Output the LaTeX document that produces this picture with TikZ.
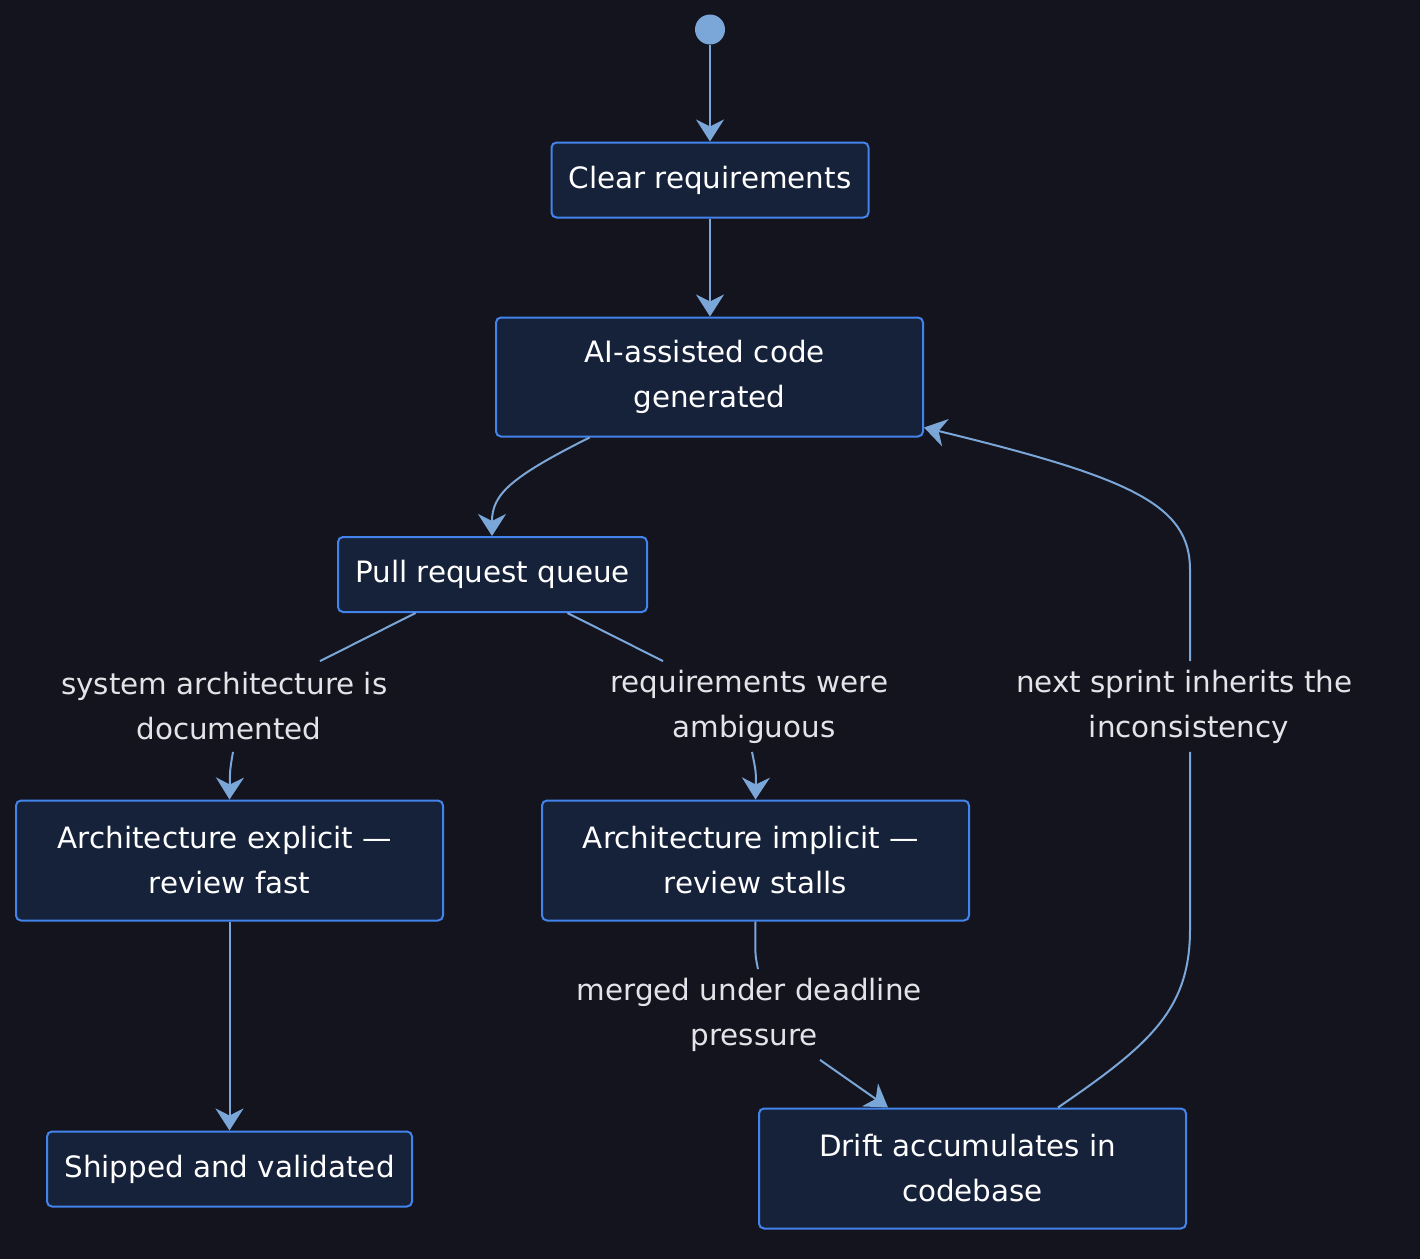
\documentclass[tikz,border=0pt]{standalone}
\usepackage{fontspec}
\setmainfont{DejaVu Sans}
\usetikzlibrary{arrows.meta,calc}
\definecolor{bgc}{HTML}{14141F}
\definecolor{boxfill}{HTML}{16213A}
\definecolor{boxline}{HTML}{4284EC}
\definecolor{edgec}{HTML}{7AA6D8}
\definecolor{lblc}{HTML}{E4E4E8}
\newcommand{\tsp}{\hspace*{4.7pt}}
\tikzset{
  statebox/.style={draw=boxline, fill=boxfill, line width=1pt, rounded corners=2.5pt,
    text=white, align=center, inner sep=0pt, font=\fontsize{14.7}{22.5}\selectfont},
  elabel/.style={text=lblc, align=center, inner sep=0pt, minimum height=45pt,
    font=\fontsize{14.7}{22.5}\selectfont},
  conn/.style={draw=edgec, line width=1pt},
  arr/.style={conn, -{Stealth[length=11pt,width=14pt,inset=3.5pt,fill=edgec]}}
}
\begin{document}
\begin{tikzpicture}[x=0.5pt,y=-0.5pt]
\useasboundingbox (0,0.5) rectangle (1420,1259.5);
\fill[bgc] (-20,-20) rectangle (1440,1280);

\node[circle, fill=edgec, minimum size=15pt, inner sep=0pt] (start) at (710,30) {};
\node[statebox, minimum width=158.5pt, minimum height=37.5pt] (clear) at (710,180.5) {Clear requirements};
\node[statebox, minimum width=213.5pt, minimum height=59.5pt] (ai) at (709.5,377.5) {AI-assisted code\tsp\\generated};
\node[statebox, minimum width=154.5pt, minimum height=37.5pt] (pr) at (492.5,575) {Pull request queue};
\node[statebox, minimum width=213.5pt, minimum height=60pt] (aexp) at (229.5,861) {Architecture explicit —\tsp\\review fast};
\node[statebox, minimum width=213.5pt, minimum height=60pt] (aimp) at (755.5,861) {Architecture implicit —\tsp\\review stalls};
\node[statebox, minimum width=182.5pt, minimum height=37.5pt] (ship) at (229.5,1169.5) {Shipped and validated};
\node[statebox, minimum width=213.5pt, minimum height=60pt] (drift) at (972.5,1169) {Drift accumulates in\tsp\\codebase};

\node[elabel] (l1) at (229,707) {system architecture is\tsp\\documented};
\node[elabel] (l2) at (754,707) {requirements were\tsp\\ambiguous};
\node[elabel] (l3) at (1189,707) {next sprint inherits the\tsp\\inconsistency};
\node[elabel] (l4) at (754,1015) {merged under deadline\tsp\\pressure};

\draw[arr] (start) -- (start |- clear.north);
\draw[arr] (clear.south) -- (clear.south |- ai.north);
\draw[arr] ($(ai.south)+(-120,0)$) .. controls (510,478) and (492,495) .. ($(pr.north)+(-0.5,0)$);

\draw[conn] ($(pr.south)+(-77,0)$) -- ($(l1.north)+(91,0)$);
\draw[arr] ($(l1.south)+(4,0)$) .. controls (230,770) .. (aexp.north);

\draw[conn] ($(pr.south)+(75,0)$) -- ($(l2.north)+(-91,0)$);
\draw[arr] ($(l2.south)+(-2,0)$) .. controls (756,772) .. (aimp.north);

\draw[arr] (aexp.south) -- (ship.north);

\draw[conn] (aimp.south) .. controls (755,955) .. ($(l4.north)+(4,0)$);
\draw[arr] ($(l4.south)+(66,0)$) -- ($(drift.north)+(-84.5,0)$);

\draw[conn] ($(drift.north)+(85.5,0)$) .. controls (1150,1045) and (1190,1010) .. (1190,930) -- ($(l3.south)+(1,0)$);
\draw[arr] ($(l3.north)+(1,0)$) -- (1190,570) .. controls (1190,505) and (1130,478) .. ($(ai.east)+(0,50.5)$);
\end{tikzpicture}
\end{document}
